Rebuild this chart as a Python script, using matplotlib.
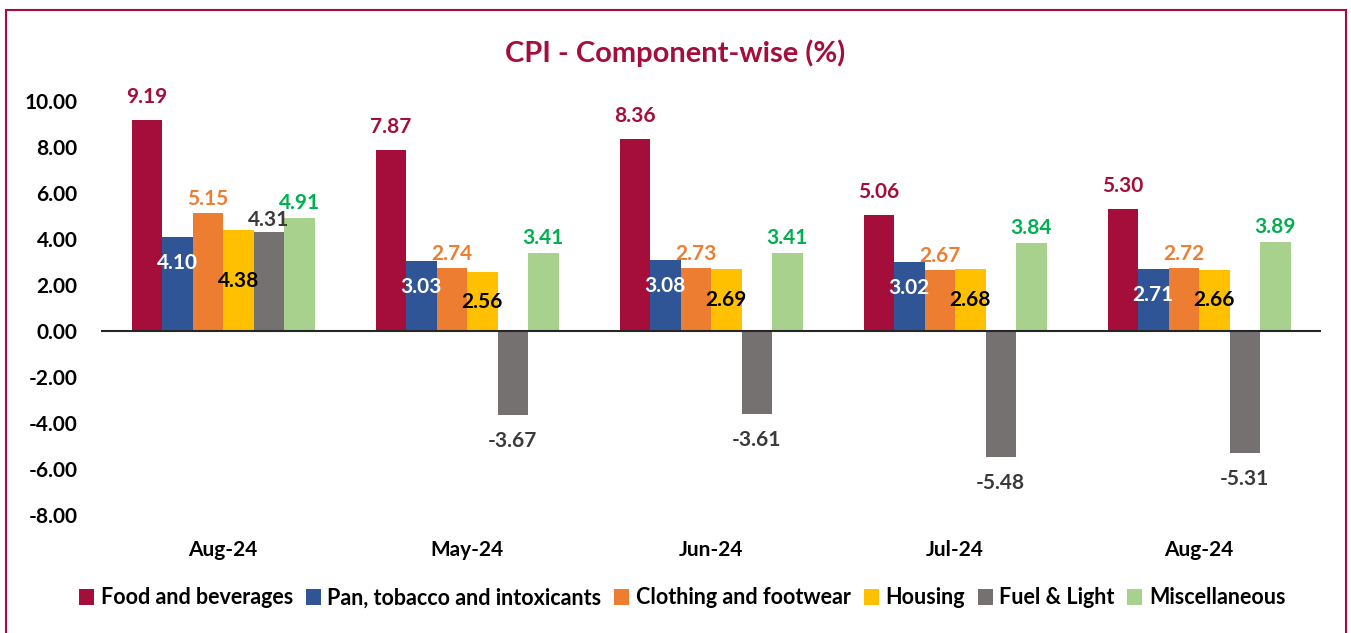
import numpy as np
import matplotlib
matplotlib.use("Agg")
import matplotlib.pyplot as plt

plt.rcParams['font.family'] = ['Lato', 'DejaVu Sans']
plt.rcParams['font.weight'] = 'bold'
plt.rcParams['axes.unicode_minus'] = False

# data
months = ['Aug-24', 'May-24', 'Jun-24', 'Jul-24', 'Aug-24']
series = ['Food and beverages', 'Pan, tobacco and intoxicants', 'Clothing and footwear',
          'Housing', 'Fuel & Light', 'Miscellaneous']
food = [9.19, 7.87, 8.36, 5.06, 5.30]
pan = [4.10, 3.03, 3.08, 3.02, 2.71]
clothing = [5.15, 2.74, 2.73, 2.67, 2.72]
housing = [4.38, 2.56, 2.69, 2.68, 2.66]
fuel = [4.31, -3.67, -3.61, -5.48, -5.31]
misc = [4.91, 3.41, 3.41, 3.84, 3.89]

bar_colors = ['#A50D3A', '#2F5597', '#ED7D31', '#FFC000', '#767171', '#A9D18E']
label_colors = ['#A50D3A', 'white', '#ED7D31', 'black', '#3A3A3A', '#00B050']
maroon = '#A50D3A'

fig = plt.figure(figsize=(13.51, 6.33), dpi=100)
ax = fig.add_axes([0.0748, 0.1864, 0.903, 0.654])

x = np.arange(len(months))
w = 0.125
all_vals = [food, pan, clothing, housing, fuel, misc]

for i, vals in enumerate(all_vals):
    pos = x + (i - 2.5) * w
    ax.bar(pos, vals, width=w, color=bar_colors[i], label=series[i], zorder=2)
    for px, v in zip(pos, vals):
        # label placement roughly as in the excel chart
        if i == 0:
            yy, off = v, 23
        elif i == 1:
            yy, off = v, -26
        elif i == 2:
            yy, off = v, 14
        elif i == 3:
            yy, off = v / 2, 0
        elif i == 4:
            yy, off = v, (12 if v > 0 else -26)
        else:
            yy, off = v, 15
        ax.annotate(f'{v:.2f}', (px, yy), xytext=(0, off), textcoords='offset pixels',
                    ha='center', va='center', fontsize=15, fontweight='bold',
                    color=label_colors[i], zorder=3)

ax.axhline(0, color='#262626', lw=1.5, zorder=4)
ax.set_xlim(-0.5, 4.5)
ax.set_ylim(-8, 10)
ax.set_yticks(np.arange(-8, 11, 2))
ax.set_yticklabels([f'{t:.2f}' for t in np.arange(-8, 11, 2)])
ax.set_xticks(x)
ax.set_xticklabels(months)
ax.tick_params(axis='y', length=0, pad=17, labelsize=15)
ax.tick_params(axis='x', length=0, pad=18, labelsize=15)
for s in ax.spines.values():
    s.set_visible(False)

fig.text(0.5, 1 - 53 / 633, 'CPI - Component-wise (%)', ha='center', va='center',
         fontsize=21, fontweight='bold', color=maroon)

ax.legend(loc='center', bbox_to_anchor=(0.505, 1 - 598 / 633), bbox_transform=fig.transFigure,
          ncol=6, frameon=False, fontsize=15.5, handlelength=0.7, handleheight=0.7,
          handletextpad=0.3, columnspacing=0.6)

border = plt.Rectangle((6 / 1351, -0.1), 1340 / 1351, 1.1 - 10 / 633, transform=fig.transFigure,
                       fill=False, edgecolor=maroon, lw=1.5)
fig.patches.append(border)

fig.savefig('out.png', dpi=100)
